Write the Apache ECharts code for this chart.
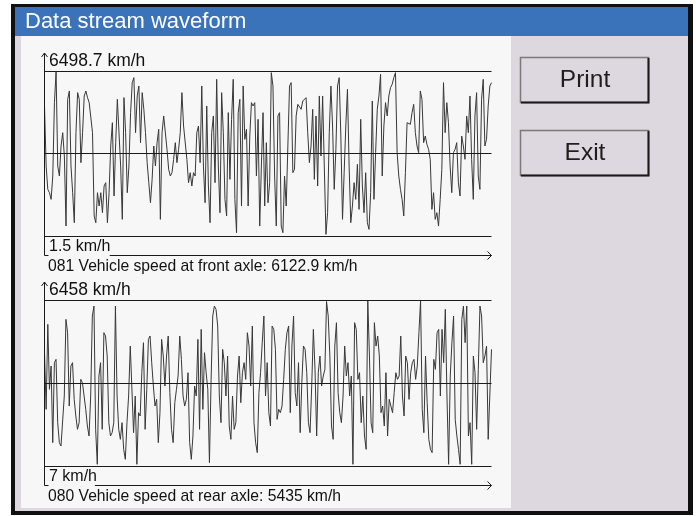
<!DOCTYPE html>
<html><head><meta charset="utf-8">
<script src="https://cdn.jsdelivr.net/npm/echarts@6/dist/echarts.min.js"></script>
<style>html,body{margin:0;padding:0;background:#fff}#c{width:696px;height:516px}</style>
</head><body><div id="c"></div>
<script>
const windowTitle = 'Data stream waveform';
const buttonLabels = ['Print', 'Exit'];
const channelNames = ['081 Vehicle speed at front axle', '080 Vehicle speed at rear axle'];
const currentValues = ['6122.9', '5435'];
const axisMax = [6498.7, 6458];
const axisMin = [1.5, 7];
const unit = 'km/h';

const frontAxle = [5121,2757,1838,1707,1444,2363,5252,6480,2757,2363,3545,4070,3151,394,5383,5712,2757,1707,525,4070,5646,5383,2889,4070,5515,5712,5449,5252,5186,4070,788,525,1707,1182,1707,919,1970,2101,525,1707,3545,4464,1576,3676,5383,5449,2757,657,5449,4070,1707,2757,4858,6040,6237,4070,5515,5909,3676,5646,4989,4070,2889,2101,1313,2232,3545,2757,3676,4202,657,4070,4727,4792,3414,2626,2363,2495,3020,3676,2889,3414,4070,5646,4333,4267,3020,2101,2495,1970,2495,
2363,4070,4333,2889,5909,2757,1313,5121,1970,525,4070,4727,2101,6171,2757,919,5646,4070,1444,788,4858,2232,4596,6171,1444,131,4858,5383,1182,5909,3808,4202,1182,3939,5252,5121,5252,2363,4596,394,2757,4858,1182,3676,1313,2101,6434,5909,2363,394,4727,4858,394,131,2363,1182,3545,5909,6040,2495,2626,4727,5186,5121,4989,5318,5383,5449,4070,2889,3545,4989,2232,4727,1970,5515,3151,5515,2757,66,919,4070,5909,4333,1838,3414,5909,6237,3939,657,2495,
4333,5777,2757,525,1182,2101,1444,2823,1050,4596,1970,919,2495,525,263,1707,5318,1444,3283,4989,5515,6368,2363,4333,5252,4727,5515,5843,5974,6237,6434,3283,2363,1838,1444,788,2495,4464,4530,4399,4858,5186,4070,3545,3283,5712,5383,3676,3939,3611,3414,3020,1050,1707,657,919,394,1444,2626,6040,4070,5252,4464,2757,1707,3283,3414,3676,2101,1576,3939,3545,3020,4727,4070,5515,3020,1444,4727,5646,2363,1838,5383,6171,3545,3808,5121,5909,6040];

const rearAxle = [4410,2209,5511,2986,3892,914,4022,4151,1691,914,784,719,2727,5705,5187,2338,3892,4022,2597,1950,1432,1691,3374,3245,2727,2209,1561,1173,2727,5835,6223,1432,72,3504,4022,1432,5187,5058,4281,1691,1173,1302,1691,6223,2727,1432,1043,1691,654,266,1691,2727,4669,4669,1302,2727,72,2079,1950,3633,4799,1432,2986,4928,5058,4022,3115,2338,2597,914,2079,4928,4281,3115,4281,5058,2856,1432,914,2468,2986,3504,5058,4151,2727,2338,2597,3633,914,266,1173,3115,2727,
4928,1432,5317,2209,4410,3633,2986,137,3374,5835,6223,6094,5446,2727,1691,4540,4022,2727,4281,1561,1043,2727,1432,1691,3504,4281,2468,3633,4022,3374,5187,4669,3115,5446,1691,914,525,2856,3633,4799,5835,2727,4022,2079,1561,5446,5317,4540,1820,2209,2079,2338,3374,4540,5187,5446,2079,4669,5835,2856,2338,4022,1302,3245,4669,4540,3633,1691,1302,3115,5317,3763,1173,3633,4281,3115,3504,3763,6400,5835,4281,1561,1043,4669,5576,2856,2079,1691,2727,4669,3504,
4022,2727,3504,72,5576,5317,3374,3633,1691,2727,1173,654,6440,4281,1691,1302,5576,4669,5058,4281,2079,2338,1561,3633,1173,2597,2338,2079,2856,3633,3374,3504,5058,2727,1950,4281,4022,2597,3633,4022,4151,3374,3892,5187,6440,2209,1302,4281,2468,1043,654,525,4151,3763,5187,5317,2727,5317,4022,6094,2727,72,3504,4799,5835,1820,1173,654,72,5705,6223,4799,6223,1173,1691,72,4281,3633,1432,3763,6223,5835,4022,4281,4669,1043,1043,4540];

const seriesData = [frontAxle, rearAxle];
const FONT = '"Liberation Sans", Arial, sans-serif';

const panels = [
  {top: 71, height: 165, axisTop: 53, axisBottom: 255, maxY: 61, minY: 247, subY: 267},
  {top: 300, height: 166, axisTop: 282, axisBottom: 485, maxY: 290, minY: 476.5, subY: 496.5}
];
const gridLeft = 44.5, gridRight = 491.5;

const graphic = [
  {type:'rect', z:-10, shape:{x:11,y:4,width:682,height:511}, style:{fill:'#101010'}},
  {type:'rect', z:-9, shape:{x:15,y:7,width:673,height:504}, style:{fill:'#ddd7df'}},
  {type:'rect', z:-8, shape:{x:15,y:7,width:673,height:29}, style:{fill:'#3a73b9'}},
  {type:'rect', z:-8, shape:{x:21,y:36,width:490,height:472}, style:{fill:'#f6f7f6'}},
  {type:'text', z:5, style:{text: windowTitle, x:25, y:22, verticalAlign:'middle', font:'22px ' + FONT, fill:'#ffffff'}}
];

buttonLabels.forEach((b, i) => {
  const y0 = 57 + i * 73;
  graphic.push(
    {type:'rect', z:1, shape:{x:520.5,y:y0+0.5,width:128,height:45}, style:{fill:'#ddd7df', stroke:'#7a7a7a', lineWidth:1.5}},
    {type:'polyline', z:2, shape:{points:[[521,y0+45.5],[648.5,y0+45.5],[648.5,y0+1]]}, style:{stroke:'#1a1a1a', lineWidth:2, fill:null}},
    {type:'text', z:3, style:{text:b, x:585, y:y0+23, align:'center', verticalAlign:'middle', font:'24.5px ' + FONT, fill:'#1e1e1e'}}
  );
});

panels.forEach((p, i) => {
  const minLabel = axisMin[i] + ' ' + unit;
  graphic.push(
    {type:'polyline', z:4, shape:{points:[[gridLeft, p.axisBottom+0.5],[gridLeft, p.axisTop]]}, style:{stroke:'#1a1a1a', lineWidth:1, fill:null}},
    {type:'polyline', z:4, shape:{points:[[gridLeft-3, p.axisTop+4],[gridLeft, p.axisTop],[gridLeft+3, p.axisTop+4]]}, style:{stroke:'#1a1a1a', lineWidth:1, fill:null}},
    {type:'polyline', z:4, shape:{points:[[gridLeft, p.axisBottom+0.5],[gridRight, p.axisBottom+0.5]]}, style:{stroke:'#1a1a1a', lineWidth:1, fill:null}},
    {type:'polyline', z:4, shape:{points:[[gridRight-4, p.axisBottom-3.5],[gridRight, p.axisBottom+0.5],[gridRight-4, p.axisBottom+4.5]]}, style:{stroke:'#1a1a1a', lineWidth:1, fill:null}},
    {type:'rect', z:4, shape:{x:48.5, y:p.minY-8, width: minLabel.length * 7.4 + 2, height: p.axisBottom - p.minY + 10}, style:{fill:'#f6f7f6'}},
    {type:'text', z:5, style:{text: axisMax[i] + ' ' + unit, x:49, y:p.maxY, verticalAlign:'middle', font:'17.5px ' + FONT, fill:'#111'}},
    {type:'text', z:5, style:{text: minLabel, x:49, y:p.minY, verticalAlign:'middle', font:'16px ' + FONT, fill:'#111'}},
    {type:'text', z:5, style:{text: channelNames[i] + ': ' + currentValues[i] + ' ' + unit, x:48, y:p.subY, verticalAlign:'middle', font:'15.7px ' + FONT, fill:'#111'}}
  );
});

const grids = panels.map(p => ({left: gridLeft, top: p.top, width: gridRight - gridLeft, height: p.height, containLabel:false}));
const xAxes = seriesData.map((d, i) => ({type:'category', gridIndex:i, boundaryGap:false, data:d.map((_, k) => k), show:false}));
const yAxes = seriesData.map((d, i) => ({type:'value', gridIndex:i, min:axisMin[i], max:axisMax[i], show:false}));
const series = seriesData.map((d, i) => ({
  type:'line', xAxisIndex:i, yAxisIndex:i, data:d, symbol:'none', silent:true,
  lineStyle:{color:'#383838', width:1},
  markLine:{silent:true, symbol:'none', label:{show:false}, animation:false,
    lineStyle:{color:'#1a1a1a', type:'solid', width:1},
    data:[{yAxis:axisMin[i]},{yAxis:(axisMin[i]+axisMax[i])/2},{yAxis:axisMax[i]}]}
}));

const chart = echarts.init(document.getElementById('c'), null, {renderer:'canvas'});
chart.setOption({animation:false, backgroundColor:'#ffffff', grid:grids, xAxis:xAxes, yAxis:yAxes, series, graphic});
</script></body></html>
